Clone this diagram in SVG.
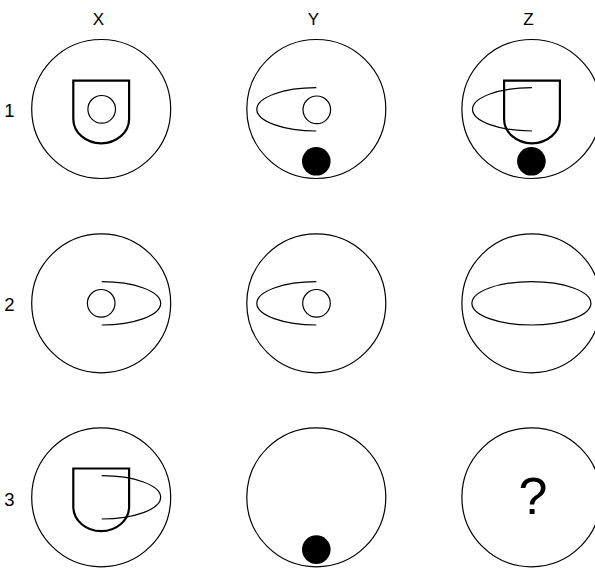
<svg xmlns="http://www.w3.org/2000/svg" xmlns:xlink="http://www.w3.org/1999/xlink" width="595" height="570" viewBox="0 0 595 570">
  <style>
    .outer { fill: #fff; stroke: #000; stroke-width: 1.2; }
    .thin { fill: none; stroke: #000; stroke-width: 1.2; }
    .shield { fill: none; stroke: #000; stroke-width: 2.2; }
    .dot { fill: #000; stroke: none; }
    .lbl { font-family: "Liberation Sans", Arial, sans-serif; font-size: 17px; fill: #000; text-anchor: middle; }
    .num { font-family: "Liberation Sans", Arial, sans-serif; font-size: 18.5px; fill: #000; text-anchor: middle; }
    .q { font-family: "Liberation Sans", Arial, sans-serif; font-size: 52px; fill: #000; text-anchor: middle; }
  </style>
  <defs>
    <circle id="ring" cx="0" cy="0" r="69.5" class="outer"/>
    <circle id="small" cx="0" cy="0" r="13.8" class="thin"/>
    <path id="shieldShape" d="M-27.9,-28.3 H27.9 V10 A27.9,24.3 0 0 1 -27.9,10 Z" class="shield"/>
    <path id="halfLeft" d="M0,-21.7 A59.5,21.7 0 0 0 0,21.7" class="thin"/>
    <path id="halfRight" d="M0,-21.7 A59,21.7 0 0 1 0,21.7" class="thin"/>
    <circle id="dotShape" cx="0" cy="52.3" r="14.3" class="dot"/>
  </defs>
  <rect width="595" height="570" fill="#fff"/>

  <g id="headers">
    <text class="lbl" x="98.5" y="25">X</text>
    <text class="lbl" x="313.5" y="25">Y</text>
    <text class="lbl" x="528.5" y="25">Z</text>
    <text class="num" x="9.5" y="117.3">1</text>
    <text class="num" x="9.5" y="311">2</text>
    <text class="num" x="9.5" y="505.5">3</text>
  </g>

  <g id="cell-1X" transform="translate(101.2,109)">
    <use xlink:href="#ring"/>
    <use xlink:href="#shieldShape"/>
    <use xlink:href="#small" x="0.5" y="0.3"/>
  </g>
  <g id="cell-1Y" transform="translate(316.3,109)">
    <use xlink:href="#ring"/>
    <use xlink:href="#halfLeft" y="0.3"/>
    <use xlink:href="#small" x="0.5" y="0.8"/>
    <use xlink:href="#dotShape"/>
  </g>
  <g id="cell-1Z" transform="translate(531.4,109)">
    <use xlink:href="#ring"/>
    <use xlink:href="#halfLeft" x="0.6" y="0.3"/>
    <use xlink:href="#shieldShape" x="0.6"/>
    <use xlink:href="#dotShape"/>
  </g>

  <g id="cell-2X" transform="translate(101.2,303.3)">
    <use xlink:href="#ring"/>
    <use xlink:href="#halfRight" x="0.5"/>
    <use xlink:href="#small"/>
  </g>
  <g id="cell-2Y" transform="translate(316.3,303.3)">
    <use xlink:href="#ring"/>
    <use xlink:href="#halfLeft"/>
    <use xlink:href="#small" x="0.2"/>
  </g>
  <g id="cell-2Z" transform="translate(531.4,303.3)">
    <use xlink:href="#ring"/>
    <ellipse cx="0" cy="0" rx="59.5" ry="21.7" class="thin"/>
  </g>

  <g id="cell-3X" transform="translate(101.2,497.3)">
    <use xlink:href="#ring"/>
    <use xlink:href="#shieldShape" y="-0.5"/>
    <use xlink:href="#halfRight" x="0.5"/>
  </g>
  <g id="cell-3Y" transform="translate(316.3,497.3)">
    <use xlink:href="#ring"/>
    <use xlink:href="#dotShape"/>
  </g>
  <g id="cell-3Z" transform="translate(531.4,497.3)">
    <use xlink:href="#ring"/>
    <text class="q" x="1.5" y="16.8">?</text>
  </g>
</svg>
